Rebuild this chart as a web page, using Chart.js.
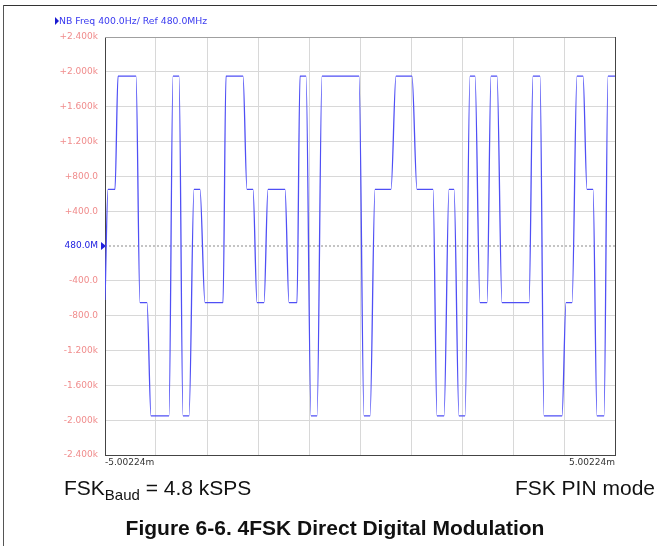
<!DOCTYPE html>
<html lang="en">
<head>
    <meta charset="UTF-8">
    <title>4FSK Direct Digital Modulation</title>
    <script src="https://cdn.jsdelivr.net/npm/chart.js@4.4.1/dist/chart.umd.min.js"></script>
    <style>
        body {
            margin: 0;
            background: #fff;
        }
        .page {
            position: relative;
            width: 657px;
            height: 546px;
            overflow: hidden;
        }
        .frame-top {
            position: absolute;
            left: 3px;
            top: 5px;
            width: 660px;
            height: 1px;
            background: #333;
        }
        .frame-left {
            position: absolute;
            left: 3px;
            top: 5px;
            width: 1px;
            height: 560px;
            background: #555;
        }
        canvas {
            position: absolute;
            left: 0;
            top: 0;
        }
        .header {
            position: absolute;
            left: 55px;
            top: 15px;
            font: 9.3px "DejaVu Sans", sans-serif;
            color: #3a3af0;
            white-space: nowrap;
        }
        .header .tri {
            display: inline-block;
            width: 0;
            height: 0;
            border-top: 4px solid transparent;
            border-bottom: 4px solid transparent;
            border-left: 4px solid #1a1ad0;
            vertical-align: -1px;
        }
        .note {
            position: absolute;
            top: 476px;
            font: 21px "Liberation Sans", Arial, sans-serif;
            color: #111;
            white-space: nowrap;
        }
        .note sub {
            font-size: 15px;
            vertical-align: -5px;
        }
        .caption {
            position: absolute;
            left: 0;
            width: 670px;
            top: 516px;
            text-align: center;
            font: bold 21px "Liberation Sans", Arial, sans-serif;
            color: #111;
            white-space: nowrap;
        }
    </style>
</head>
<body>
<div class="page">
    <div class="frame-top"></div>
    <div class="frame-left"></div>
    <canvas id="fskChart" width="657" height="546"></canvas>
    <div class="header"><span class="tri"></span>NB Freq 400.0Hz/ Ref 480.0MHz</div>
    <div class="note" style="left:64px;">FSK<sub>Baud</sub> = 4.8 kSPS</div>
    <div class="note" style="right:2px;">FSK PIN mode</div>
    <div class="caption">Figure 6-6. 4FSK Direct Digital Modulation</div>
</div>

<script>
    // time (ms) of each corner of the trace
    const times = [
        -5.002, -4.943, -4.806, -4.747, -4.394, -4.316, -4.178, -4.100,
        -3.747, -3.668, -3.550, -3.472, -3.354, -3.256, -3.139, -3.041,
        -2.687, -2.629, -2.295, -2.217, -2.099, -2.020, -1.883, -1.805,
        -1.471, -1.393, -1.236, -1.177, -1.059, -0.961, -0.843, -0.745,
        -0.019, 0.079, 0.197, 0.295, 0.608, 0.706, 1.020, 1.118,
        1.432, 1.511, 1.648, 1.746, 1.844, 1.942, 2.060, 2.158,
        2.256, 2.354, 2.492, 2.570, 2.688, 2.786, 3.316, 3.394,
        3.531, 3.610, 3.963, 4.041, 4.159, 4.257, 4.375, 4.453,
        4.571, 4.649, 4.787, 4.865, 5.002
    ];
    // frequency offset (Hz) from 480.0 MHz at each corner
    const freqs = [
        -620, 650, 650, 1950, 1950, -650, -650, -1950,
        -1950, 1950, 1950, -1950, -1950, 650, 650, -650,
        -650, 1950, 1950, 650, 650, -650, -650, 650,
        650, -650, -650, 1950, 1950, -1950, -1950, 1950,
        1950, -1950, -1950, 650, 650, 1950, 1950, 650,
        650, -1950, -1950, 650, 650, -1950, -1950, 1950,
        1950, -650, -650, 1950, 1950, -650, -650, 1950,
        1950, -1950, -1950, -650, -650, 1950, 1950, 650,
        650, -1950, -1950, 1950, 1950
    ];

    const xMin = -5.00224;
    const xMax = 5.00224;
    const xTickValues = [-5.00224, -4.001792, -3.001344, -2.000896, -1.000448, 0,
                         1.000448, 2.000896, 3.001344, 4.001792, 5.00224];
    const xTickLabels = ['-5.00224m', '', '', '', '', '', '', '', '', '', '5.00224m'];

    const yTickValues = [2400, 2000, 1600, 1200, 800, 400, 0, -400, -800, -1200, -1600, -2000, -2400];
    const yTickLabels = ['+2.400k', '+2.000k', '+1.600k', '+1.200k', '+800.0', '+400.0', '480.0M',
                         '-400.0', '-800.0', '-1.200k', '-1.600k', '-2.000k', '-2.400k'];

    const traceColor = '#4f4ff5';
    const refColor = '#2020e0';
    const labelColor = '#f08c8c';

    // plot frame + reference marker
    const framePlugin = {
        id: 'frame',
        afterDraw(chart) {
            const ctx = chart.ctx;
            const a = chart.chartArea;
            const y0 = chart.scales.y.getPixelForValue(0);
            ctx.save();
            ctx.lineWidth = 1;
            ctx.strokeStyle = '#a0a0a0';
            ctx.beginPath();
            ctx.moveTo(a.left, a.top + 0.5);
            ctx.lineTo(a.right, a.top + 0.5);
            ctx.stroke();
            ctx.strokeStyle = '#444';
            ctx.beginPath();
            ctx.moveTo(a.right + 0.5, a.top);
            ctx.lineTo(a.right + 0.5, a.bottom);
            ctx.stroke();
            ctx.fillStyle = refColor;
            ctx.beginPath();
            ctx.moveTo(a.left - 4, y0 - 4);
            ctx.lineTo(a.left + 1, y0);
            ctx.lineTo(a.left - 4, y0 + 4);
            ctx.closePath();
            ctx.fill();
            ctx.restore();
        }
    };

    function createChart() {
        Chart.defaults.font.family = '"DejaVu Sans", sans-serif';
        Chart.defaults.font.size = 9;

        const ctx = document.getElementById('fskChart').getContext('2d');
        new Chart(ctx, {
            type: 'line',
            data: {
                datasets: [
                    {
                        label: 'NB Freq',
                        data: times.map((t, i) => ({ x: t, y: freqs[i] })),
                        borderColor: traceColor,
                        borderWidth: 1.3,
                        pointRadius: 0,
                        cubicInterpolationMode: 'monotone',
                        fill: false
                    },
                    {
                        label: 'Ref',
                        data: [{ x: xMin, y: 0 }, { x: xMax, y: 0 }],
                        borderColor: '#8a8a8a',
                        borderWidth: 1,
                        borderDash: [2, 2],
                        pointRadius: 0,
                        fill: false,
                        order: 2
                    }
                ]
            },
            options: {
                responsive: false,
                animation: false,
                events: [],
                layout: {
                    padding: { left: 0, top: 37, right: 42, bottom: 71 }
                },
                plugins: {
                    legend: { display: false },
                    tooltip: { enabled: false }
                },
                scales: {
                    x: {
                        type: 'linear',
                        min: xMin,
                        max: xMax,
                        afterBuildTicks: scale => {
                            scale.ticks = xTickValues.map(v => ({ value: v }));
                        },
                        afterFit: scale => { scale.height = 20; },
                        ticks: {
                            callback: (v, i) => xTickLabels[i],
                            align: 'inner',
                            maxRotation: 0,
                            autoSkip: false,
                            padding: 2,
                            color: '#333'
                        },
                        grid: {
                            color: '#d8d8d8',
                            lineWidth: 1,
                            drawTicks: false
                        },
                        border: { color: '#444', width: 1 }
                    },
                    y: {
                        type: 'linear',
                        min: -2400,
                        max: 2400,
                        afterBuildTicks: scale => {
                            scale.ticks = yTickValues.map(v => ({ value: v }));
                        },
                        afterFit: scale => { scale.width = 105; },
                        ticks: {
                            callback: (v, i) => yTickLabels[i],
                            color: c => (c.tick && c.tick.value === 0) ? refColor : labelColor,
                            padding: 7,
                            autoSkip: false
                        },
                        grid: {
                            color: c => (c.tick && c.tick.value === 0) ? 'rgba(0,0,0,0)' : '#d8d8d8',
                            lineWidth: 1,
                            drawTicks: false
                        },
                        border: { color: '#444', width: 1 }
                    }
                }
            },
            plugins: [framePlugin]
        });
    }

    window.onload = createChart;
</script>
</body>
</html>
